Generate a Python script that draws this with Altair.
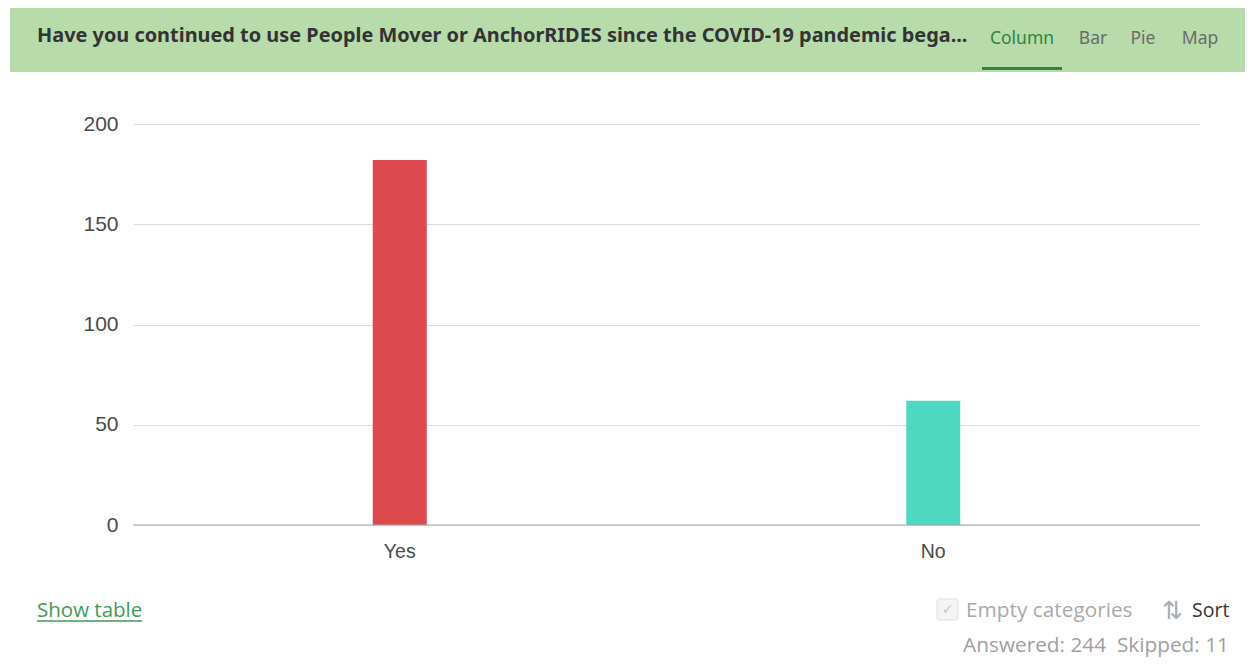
import altair as alt
import pandas as pd

# ---- data ----
categories = ["Yes", "No"]
counts = [182, 62]
bar_colors = ["#dc4a50", "#4dd8c2"]
y_ticks = [0, 50, 100, 150, 200]

title_text = ["Have you continued to use People Mover or AnchorRIDES since the COVID-19 pandemic bega..."]
tab_labels = ["Column", "Bar", "Pie", "Map"]
tab_x = [889, 960, 1010, 1067]
tab_colors = ["#2e8540", "#6b6b6b", "#6b6b6b", "#6b6b6b"]
footer_left = ["Show table"]
footer_empty = ["Empty categories"]
footer_sort = ["Sort"]
footer_counts = ["Answered: 244\u00a0\u00a0Skipped: 11"]

W, H = 1067, 401

df = pd.DataFrame({"category": categories, "count": counts})

bars = alt.Chart(df).mark_bar(size=54).encode(
    x=alt.X("category:N", sort=categories,
            scale=alt.Scale(paddingInner=0, paddingOuter=0),
            axis=alt.Axis(title=None, labelAngle=0, labelFontSize=19.5, labelColor="#4a4a4a",
                          labelFont="Liberation Sans", ticks=False, domain=False,
                          labelPadding=17, grid=False)),
    y=alt.Y("count:Q", scale=alt.Scale(domain=[0, 200]),
            axis=alt.Axis(title=None, values=y_ticks, labelFontSize=21, labelColor="#4a4a4a",
                          labelFont="Liberation Sans", ticks=False, domain=False,
                          labelPadding=15, gridColor="#dcdcdc", gridWidth=1)),
    color=alt.Color("category:N", sort=categories,
                    scale=alt.Scale(domain=categories, range=bar_colors), legend=None),
)

baseline = alt.Chart(pd.DataFrame({"count": [0]})).mark_rule(color="#a8a8a8", strokeWidth=1).encode(
    y="count:Q", x=alt.value(0), x2=alt.value(W)
)


def text_layer(txt, x, y, **kw):
    return alt.Chart(pd.DataFrame({"t": [txt]})).mark_text(**kw).encode(
        x=alt.value(x), y=alt.value(y), text="t:N"
    )


# header band
header = alt.Chart(pd.DataFrame({"a": [0]})).mark_rect(color="#b7dbab").encode(
    x=alt.value(-123), x2=alt.value(1112), y=alt.value(-116), y2=alt.value(-52)
)
header_title = text_layer(title_text[0], -96, -82, align="left", baseline="alphabetic",
                          font="Noto Sans", fontWeight="bold", fontSize=19.9, color="#333333")
tabs = [text_layer(t, x, -80, align="center", baseline="alphabetic", font="Noto Sans",
                   fontSize=17.5, color=c) for t, x, c in zip(tab_labels, tab_x, tab_colors)]
tab_underline = alt.Chart(pd.DataFrame({"a": [0]})).mark_rect(color="#2e8540").encode(
    x=alt.value(849), x2=alt.value(929), y=alt.value(-57), y2=alt.value(-54)
)

# footer
show_table = text_layer(footer_left[0], -96, 493, align="left", baseline="alphabetic",
                        font="Open Sans", fontSize=20.5, color="#3f9a57")
show_underline = alt.Chart(pd.DataFrame({"a": [0]})).mark_rule(color="#3f9a57", strokeWidth=1.5).encode(
    x=alt.value(-96), x2=alt.value(9), y=alt.value(497)
)
checkbox = alt.Chart(pd.DataFrame({"a": [0]})).mark_rect(
    fill="#f4f4f4", stroke="#e0e0e0", strokeWidth=1, cornerRadius=2
).encode(x=alt.value(804), x2=alt.value(825), y=alt.value(475), y2=alt.value(496))
checkmark = text_layer("✓", 814.5, 486, align="center", baseline="middle",
                       font="DejaVu Sans", fontSize=14, color="#c8c8c8")
empty_cat = text_layer(footer_empty[0], 833, 493, align="left", baseline="alphabetic",
                       font="Open Sans", fontSize=20.8, color="#a9a9a9")
sort_icon = text_layer("⇅", 1029, 495, align="left", baseline="alphabetic",
                       font="DejaVu Sans", fontSize=25, color="#a3adb8")
sort_text = text_layer(footer_sort[0], 1059, 493, align="left", baseline="alphabetic",
                       font="Open Sans", fontSize=19.5, color="#333333")
counts_text = text_layer(footer_counts[0], 1096, 528, align="right", baseline="alphabetic",
                         font="Open Sans", fontSize=20.8, color="#a0a0a0")

chart = alt.layer(
    header, header_title, *tabs, tab_underline,
    bars, baseline,
    show_table, show_underline, checkbox, checkmark, empty_cat, sort_icon, sort_text, counts_text,
).properties(
    width=W, height=H,
    background="white",
    padding={"left": 125, "top": 116, "right": 48, "bottom": 133},
    autosize=alt.AutoSizeParams(type="none"),
).configure_view(strokeWidth=0, stroke="transparent")

chart.save("out.html", embed_options={"renderer": "svg", "actions": False})
